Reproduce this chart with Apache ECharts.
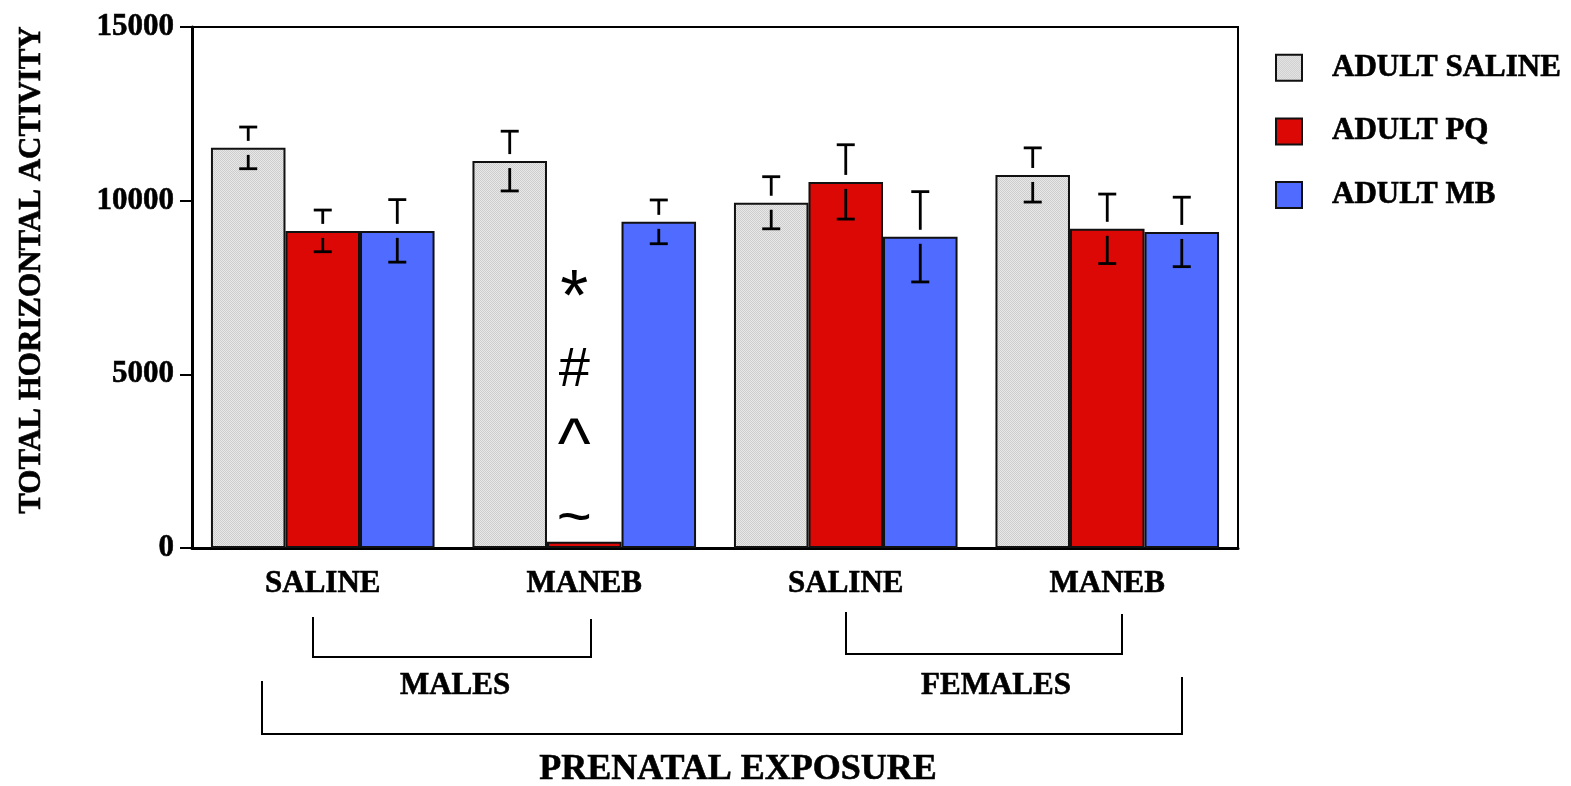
<!DOCTYPE html>
<html>
<head>
<meta charset="utf-8">
<script src="https://cdn.jsdelivr.net/npm/echarts@6/dist/echarts.min.js"></script>
<style>
  html, body { margin: 0; padding: 0; background: #fff; }
  #main { width: 1571px; height: 786px; }
</style>
</head>
<body>
<div id="main"></div>
<script>
// categories / series
var categories = ['SALINE', 'MANEB', 'SALINE', 'MANEB'];
var seriesNames = ['ADULT SALINE', 'ADULT PQ', 'ADULT MB'];
var salineMean = [11520, 11140, 9940, 10740];
var salineSem  = [600, 860, 750, 780];
var pqMean     = [9130, 180, 10540, 9190];
var pqSem      = [600, null, 1070, 1000];
var mbMean     = [9130, 9390, 8960, 9100];
var mbSem      = [900, 630, 1300, 1000];
var yTicks     = [0, 5000, 10000, 15000];
// significance marks over PQ bar of prenatal maneb males
var annoText  = ['*', '#', '^', '~'];
var annoValue = [7150, 5100, 2900, 820];

var FONT = "'Liberation Serif', 'Times New Roman', serif";
var annoFontSize = { '*': 72, '#': 56, '^': 70, '~': 60 };

// stippled grey fill
var cv = document.createElement('canvas');
cv.width = 2; cv.height = 2;
var cx = cv.getContext('2d');
cx.fillStyle = '#e8e8e8'; cx.fillRect(0, 0, 2, 2);
cx.fillStyle = '#cdcdcd'; cx.fillRect(0, 0, 1, 1); cx.fillRect(1, 1, 1, 1);
var greyFill = { image: cv, repeat: 'repeat' };

var fills = [greyFill, '#dc0806', '#506bff'];
var means = [salineMean, pqMean, mbMean];
var sems = [salineSem, pqSem, mbSem];

var chart = echarts.init(document.getElementById('main'));

var series = [];
for (var s = 0; s < 3; s++) {
    series.push({
        name: seriesNames[s],
        type: 'bar',
        barWidth: '28.5%',
        barGap: 0,
        itemStyle: { color: fills[s], borderColor: '#111', borderWidth: 2 },
        data: means[s],
        z: 2
    });
}

//误差线
function makeErr(s) {
    var data = [];
    for (var i = 0; i < categories.length; i++) {
        if (sems[s][i] != null) data.push([i, means[s][i], sems[s][i]]);
    }
    return {
        type: 'custom',
        z: 5,
        silent: true,
        data: data,
        renderItem: function (params, api) {
            var idx = api.value(0), m = api.value(1), e = api.value(2);
            var bw = api.size([1, 0])[0] * 0.285;
            var c = api.coord([idx, m]);
            var x = c[0] + (s - 1) * bw;
            var yTop = c[1];
            var hi = api.coord([idx, m + e])[1];
            var lo = api.coord([idx, m - e])[1];
            var gap = 7, cap = 9;
            var st = { stroke: '#000', lineWidth: 2.8 };
            return {
                type: 'group',
                children: [
                    { type: 'line', shape: { x1: x, y1: hi, x2: x, y2: yTop - gap }, style: st },
                    { type: 'line', shape: { x1: x - cap, y1: hi, x2: x + cap, y2: hi }, style: st },
                    { type: 'line', shape: { x1: x, y1: yTop + gap, x2: x, y2: lo }, style: st },
                    { type: 'line', shape: { x1: x - cap, y1: lo, x2: x + cap, y2: lo }, style: st }
                ]
            };
        }
    };
}
for (var k = 0; k < 3; k++) series.push(makeErr(k));

var annoData = [];
for (var a = 0; a < annoText.length; a++) annoData.push([1, annoValue[a], a]);
series.push({
    type: 'custom',
    z: 6,
    silent: true,
    data: annoData,
    renderItem: function (params, api) {
        var p = api.coord([api.value(0), api.value(1)]);
        var t = annoText[api.value(2)];
        return {
            type: 'text',
            x: p[0] - 10,
            y: p[1],
            style: {
                text: t,
                fill: '#000',
                font: annoFontSize[t] + "px 'Liberation Sans', Arial, sans-serif",
                align: 'center',
                verticalAlign: 'middle'
            }
        };
    }
});

function gtext(str, x, y, size, rot) {
    return {
        type: 'text', x: x, y: y, rotation: rot || 0,
        style: { text: str, font: 'bold ' + size + 'px ' + FONT, fill: '#000', stroke: '#000', lineWidth: 0.6, align: 'center', verticalAlign: 'middle' }
    };
}

var option = {
    backgroundColor: '#fff',
    animation: false,
    grid: { left: 192, right: 333, top: 27, bottom: 238, show: true, borderColor: '#000', borderWidth: 2 },
    legend: {
        data: seriesNames,
        orient: 'vertical',
        left: 1270,
        top: 47,
        itemWidth: 26,
        itemHeight: 26,
        itemGap: 32,
        icon: 'rect',
        textStyle: { fontFamily: FONT, fontWeight: 'bold', fontSize: 31, color: '#000', textBorderColor: '#000', textBorderWidth: 0.6, lineHeight: 26, padding: [0, 0, 0, 25] }
    },
    xAxis: {
        type: 'category',
        data: categories,
        axisLine: { lineStyle: { color: '#000', width: 3 } },
        axisTick: { alignWithLabel: true, length: 10, lineStyle: { color: '#000', width: 2 } },
        axisLabel: { margin: 20, fontFamily: FONT, fontWeight: 'bold', fontSize: 31, color: '#000', textBorderColor: '#000', textBorderWidth: 0.6 }
    },
    yAxis: {
        type: 'value',
        min: 0,
        max: 15000,
        interval: 5000,
        splitLine: { show: false },
        axisLine: { show: true, lineStyle: { color: '#000', width: 3 } },
        axisTick: { show: true, length: 12, lineStyle: { color: '#000', width: 2 } },
        axisLabel: {
            margin: 18, fontFamily: FONT, fontWeight: 'bold', fontSize: 31, color: '#000', textBorderColor: '#000', textBorderWidth: 0.6,
            formatter: function (v) { return yTicks.indexOf(v) >= 0 ? String(v) : ''; }
        }
    },
    graphic: [
        gtext('TOTAL HORIZONTAL ACTIVITY', 32, 270, 31, Math.PI / 2),
        { type: 'polyline', shape: { points: [[313, 617], [313, 657], [591, 657], [591, 619]] }, style: { stroke: '#000', lineWidth: 2, fill: null } },
        { type: 'polyline', shape: { points: [[846, 612], [846, 654], [1122, 654], [1122, 614]] }, style: { stroke: '#000', lineWidth: 2, fill: null } },
        { type: 'polyline', shape: { points: [[262, 681], [262, 734], [1182, 734], [1182, 677]] }, style: { stroke: '#000', lineWidth: 2, fill: null } },
        gtext('MALES', 455, 686, 31),
        gtext('FEMALES', 996, 686, 31),
        gtext('PRENATAL EXPOSURE', 738, 770, 36)
    ],
    series: series
};
chart.setOption(option);
</script>
</body>
</html>
